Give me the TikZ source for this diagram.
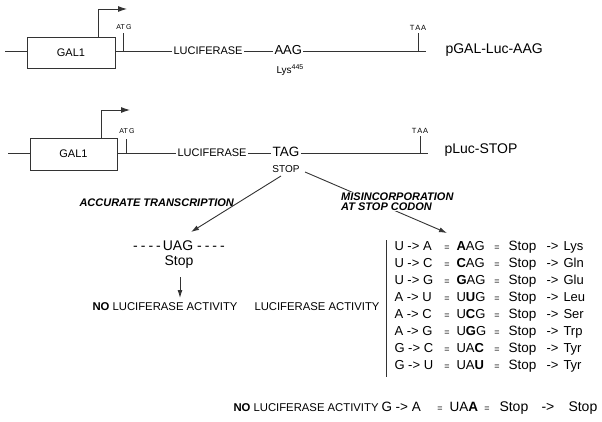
\documentclass[tikz,border=0pt]{standalone}
\usepackage{fontspec}
\setmainfont{Liberation Sans}
\usetikzlibrary{arrows.meta}
\newcommand\fs[1]{\fontsize{#1}{#1}\selectfont}
\begin{document}
\begin{tikzpicture}[x=1pt,y=-1pt,
  ln/.style={line width=0.9pt, draw=black!80},
  gbox/.style={draw=black!80, line width=0.9pt, minimum width=88pt, minimum height=31pt, inner sep=0pt, font=\fs{11}},
  t/.style={inner sep=0pt, outer sep=1.5pt, text height=.72em, text depth=0pt},
  tw/.style={t, anchor=west},
  bi/.style={font=\fs{11}\bfseries\itshape},
  prom/.style={ln, -{Latex[length=9pt,width=6pt]}},
  arr/.style={ln, -{Latex[length=8pt,width=5pt]}}
]
\useasboundingbox (0,0) rectangle (602,422);

% ---------- construct 1 ----------
\node[gbox] (g1) at (71,52.5) {GAL1};
\coordinate (l1a) at (5,51);
\draw[ln] (l1a) -- (g1.west |- l1a);
\node[tw, font=\fs{11}] (luc1) at (172,51) {LUCIFERASE};
\draw[ln] (g1.east |- l1a) -- (luc1.west);
\node[tw, font=\fs{13}] (aag) at (273,51) {AAG};
\draw[ln] (luc1.east) -- (aag.west);
\coordinate (e1) at (426,51);
\draw[ln] (aag.east) -- (e1);
\node[tw, font=\fs{10}] (lys) at (275,70) {Lys\textsuperscript{445}};
% ATG tick
\coordinate (atg1) at (123,51);
\coordinate (atg1t) at (123,33);
\draw[ln] (atg1) -- (atg1t);
\node[t, font=\fs{7}] (atgl1) at (124,26) {AT\,G};
% TAA tick
\coordinate (taa1) at (418,51);
\coordinate (taa1t) at (418,33);
\draw[ln] (taa1) -- (taa1t);
\node[t, font=\fs{7.5}] (taal1) at (418,27) {T\kern.8ptA\kern.8ptA};
% promoter
\coordinate (p1) at (98,9);
\coordinate (p1e) at (127,9);
\draw[prom] (g1.north -| p1) -- (p1) -- (p1e);
\node[tw, font=\fs{14}] (name1) at (444,50) {pGAL-Luc-AAG};

% ---------- construct 2 ----------
\node[gbox, minimum width=87pt, minimum height=32pt] (g2) at (73.5,154) {GAL1};
\coordinate (l2a) at (8,153);
\draw[ln] (l2a) -- (g2.west |- l2a);
\node[tw, font=\fs{11}] (luc2) at (176,153) {LUCIFERASE};
\draw[ln] (g2.east |- l2a) -- (luc2.west);
\node[t, font=\fs{13.5}] (tag) at (286,153) {TAG};
\draw[ln] (luc2.east) -- (tag.west);
\coordinate (e2) at (428,153);
\draw[ln] (tag.east) -- (e2);
\node[t, font=\fs{10}] (stop2) at (286,169) {STOP};
\coordinate (atg2) at (126,153);
\coordinate (atg2t) at (126,139);
\draw[ln] (atg2) -- (atg2t);
\node[t, font=\fs{7}] (atgl2) at (127,130) {AT\,G};
\coordinate (taa2) at (420,153);
\coordinate (taa2t) at (420,136);
\draw[ln] (taa2) -- (taa2t);
\node[t, font=\fs{7.5}] (taal2) at (420,130) {T\kern.8ptA\kern.8ptA};
\coordinate (p2) at (101,110);
\coordinate (p2e) at (130,110);
\draw[prom] (g2.north -| p2) -- (p2) -- (p2e);
\node[tw, font=\fs{14}] (name2) at (443,150) {pLuc-STOP};

% ---------- branches ----------
\coordinate (a1s) at (281,176);
\coordinate (a1e) at (191,232);
\draw[arr] (a1s) -- (a1e);
\node[tw, bi] (acc) at (78,203) {ACCURATE TRANSCRIPTION};

\coordinate (a2s) at (305,172);
\coordinate (a2e) at (447,233);
\draw[arr] (a2s) -- (a2e);
\node[anchor=north west, bi, fill=white, inner sep=1pt, align=left] (mis) at (340,192) {MISINCORPORATION\\[-1.5pt]AT STOP CODON};

% ---------- left outcome ----------
\node[t, font=\fs{14}] (uag) at (179,247) {-\kern3pt-\kern3pt-\kern3pt-\kern2pt UAG -\kern3pt-\kern3pt-\kern3pt-};
\node[t, font=\fs{14}] (stopb) at (179,262) {Stop};
\coordinate (d1s) at (180,277);
\coordinate (d1e) at (180,298);
\draw[arr] (d1s) -- (d1e);
\node[tw, font=\fs{11.3}] (noact1) at (91,307) {\textbf{NO} LUCIFERASE ACTIVITY};
\node[tw, font=\fs{11.3}] (act1) at (253,307) {LUCIFERASE ACTIVITY};

% ---------- table ----------
\coordinate (bt) at (386,240);
\coordinate (bb) at (386,377);
\draw[ln] (bt) -- (bb);
\foreach \y/\m/\c/\a [count=\i] in {
  247/U -> A/\textbf{A}AG/Lys,
  264/U -> C/\textbf{C}AG/Gln,
  281/U -> G/\textbf{G}AG/Glu,
  298/A -> U/U\textbf{U}G/Leu,
  315/A -> C/U\textbf{C}G/Ser,
  332/A -> G/U\textbf{G}G/Trp,
  349/G -> C/UA\textbf{C}/Tyr,
  366/G -> U/UA\textbf{U}/Tyr}{
  \node[tw, font=\fs{13}] (m\i) at (393,\y) {\m};
  \node[t, font=\fs{9}] (qa\i) at (447,\y) {=};
  \node[tw, font=\fs{13}] (c\i) at (455,\y) {\c};
  \node[t, font=\fs{9}] (qb\i) at (497,\y) {=};
  \node[tw, font=\fs{13.5}] (s\i) at (507,\y) {Stop};
  \node[tw, font=\fs{13}] (r\i) at (545,\y) {->};
  \node[tw, font=\fs{13}] (aa\i) at (562,\y) {\a};
}

% ---------- bottom row ----------
\node[tw, font=\fs{11.3}] (noact2) at (232,408) {\textbf{NO} LUCIFERASE ACTIVITY};
\node[tw, font=\fs{13.5}] (mz) at (380,408) {G -> A};
\node[t, font=\fs{9}] (qz) at (440,408) {=};
\node[tw, font=\fs{13.5}] (cz) at (448,408) {UA\textbf{A}};
\node[t, font=\fs{9}] (qy) at (487,408) {=};
\node[tw, font=\fs{14}] (sz) at (498,408) {Stop};
\node[tw, font=\fs{14}] (rz) at (540,408) {->};
\node[tw, font=\fs{14}] (sy) at (567,408) {Stop};
\end{tikzpicture}
\end{document}
